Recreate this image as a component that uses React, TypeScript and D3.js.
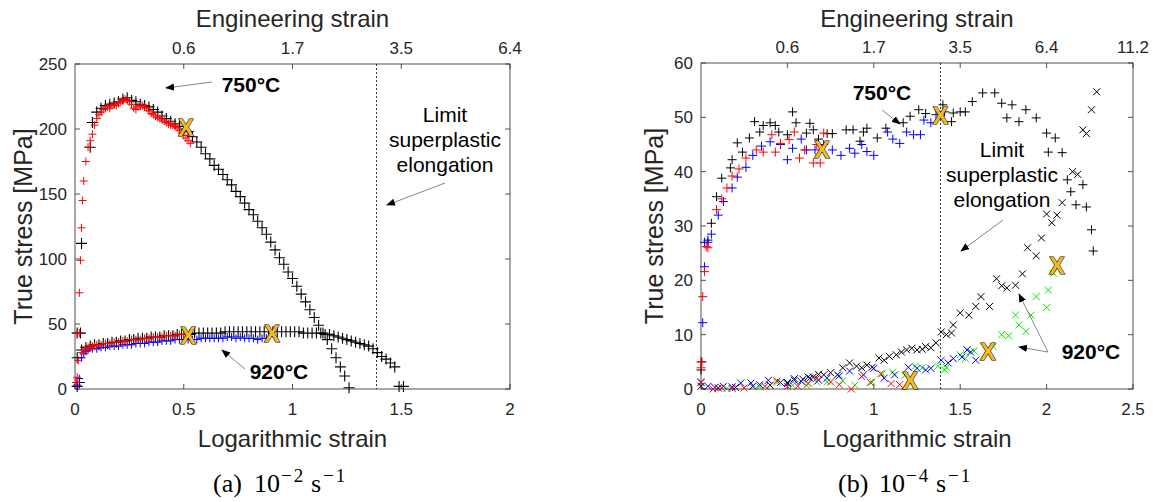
import React from "react";
import * as d3 from "d3";

type P = [number, number];

// ---------- Panel (a) 10^-2 s^-1 ----------
const a750Black: P[] = [
  [0.02, 5], [0.025, 43], [0.03, 112], [0.07, 186], [0.08, 205], [0.1, 213], [0.12, 216], [0.14, 218],
  [0.16, 219], [0.18, 220], [0.2, 221], [0.22, 223], [0.24, 224], [0.26, 222], [0.28, 221], [0.3, 219],
  [0.32, 218], [0.34, 217], [0.36, 215], [0.38, 213], [0.4, 210], [0.42, 208], [0.44, 206], [0.46, 204],
  [0.48, 202], [0.5, 200], [0.52, 198], [0.54, 194], [0.56, 190], [0.58, 186], [0.6, 181], [0.62, 177],
  [0.64, 172], [0.66, 169], [0.68, 165], [0.7, 161], [0.72, 157], [0.74, 152], [0.76, 148], [0.78, 143],
  [0.8, 138], [0.82, 134], [0.84, 129], [0.86, 124], [0.88, 119], [0.9, 113], [0.92, 107], [0.94, 101],
  [0.96, 96], [0.98, 90], [1.0, 85], [1.02, 79], [1.04, 73], [1.06, 67], [1.08, 61], [1.1, 55],
  [1.12, 49], [1.14, 43], [1.16, 38], [1.18, 31], [1.2, 24], [1.22, 17], [1.24, 10], [1.26, 1],
];
const a750Red: P[] = [
  [0.005, 5], [0.01, 43], [0.02, 74], [0.025, 99], [0.03, 124], [0.035, 145], [0.04, 160], [0.05, 175],
  [0.06, 186], [0.07, 191], [0.08, 196], [0.09, 203], [0.1, 208], [0.11, 211], [0.12, 213], [0.13, 215],
  [0.14, 216], [0.15, 217], [0.16, 216], [0.17, 218], [0.18, 219], [0.19, 218], [0.2, 220], [0.21, 221],
  [0.22, 222], [0.23, 223], [0.24, 222], [0.25, 221], [0.26, 219], [0.27, 216], [0.28, 215], [0.29, 217],
  [0.3, 218], [0.31, 218], [0.32, 217], [0.33, 216], [0.34, 214], [0.35, 212], [0.36, 211], [0.37, 210],
  [0.38, 209], [0.39, 208], [0.4, 207], [0.41, 206], [0.42, 205], [0.43, 204], [0.44, 203], [0.45, 203],
  [0.46, 202], [0.47, 201], [0.48, 199], [0.49, 197], [0.5, 195], [0.51, 193], [0.52, 191], [0.53, 189],
];
const a920Black: P[] = [
  [0.01, 2], [0.01, 24], [0.01, 43], [0.03, 30], [0.05, 32], [0.07, 33], [0.09, 34], [0.11, 34],
  [0.13, 35], [0.15, 35], [0.17, 36], [0.19, 36], [0.21, 37], [0.23, 37], [0.25, 38], [0.27, 38],
  [0.29, 39], [0.31, 39], [0.33, 39], [0.35, 40], [0.37, 40], [0.39, 40], [0.41, 41], [0.43, 41],
  [0.45, 41], [0.47, 42], [0.49, 42], [0.51, 42], [0.53, 42], [0.55, 43], [0.57, 43], [0.59, 43],
  [0.61, 43], [0.63, 43], [0.65, 43], [0.67, 43], [0.69, 44], [0.71, 44], [0.73, 44], [0.75, 44],
  [0.77, 44], [0.79, 44], [0.81, 44], [0.83, 44], [0.85, 44], [0.87, 44], [0.89, 44], [0.91, 44],
  [0.93, 44], [0.95, 44], [0.97, 44], [0.99, 44], [1.01, 44], [1.03, 44], [1.05, 43], [1.07, 43],
  [1.09, 43], [1.11, 43], [1.13, 43], [1.15, 42], [1.17, 42], [1.19, 41], [1.21, 40], [1.23, 39],
  [1.25, 38], [1.27, 37], [1.29, 36], [1.31, 35], [1.33, 34], [1.35, 33], [1.37, 31], [1.39, 28],
  [1.41, 25], [1.43, 23], [1.45, 20], [1.47, 17], [1.49, 2], [1.51, 2],
];
const a920Red: P[] = [
  [0.005, 5], [0.01, 9], [0.015, 22], [0.02, 43], [0.03, 28], [0.04, 30], [0.05, 31], [0.06, 32],
  [0.07, 32], [0.08, 33], [0.09, 33], [0.1, 34], [0.12, 34], [0.14, 35], [0.16, 35], [0.18, 36],
  [0.2, 36], [0.22, 37], [0.24, 37], [0.26, 38], [0.28, 38], [0.3, 38], [0.32, 39], [0.34, 39],
  [0.36, 40], [0.38, 40], [0.4, 40], [0.42, 41], [0.44, 41], [0.46, 41], [0.48, 42], [0.5, 42],
];
const a920Blue: P[] = [
  [0.01, 3], [0.02, 8], [0.03, 24], [0.04, 27], [0.05, 29], [0.06, 30], [0.08, 31], [0.1, 31],
  [0.12, 32], [0.14, 32], [0.16, 33], [0.18, 33], [0.2, 33], [0.22, 34], [0.24, 34], [0.26, 34],
  [0.28, 35], [0.3, 35], [0.32, 35], [0.34, 36], [0.36, 36], [0.38, 36], [0.4, 37], [0.42, 37],
  [0.44, 37], [0.46, 38], [0.48, 38], [0.5, 38], [0.52, 38], [0.54, 38], [0.56, 38], [0.58, 39],
  [0.6, 39], [0.62, 39], [0.64, 39], [0.66, 39], [0.68, 39], [0.7, 40], [0.72, 40], [0.74, 39],
  [0.76, 40], [0.78, 39], [0.8, 39], [0.82, 39], [0.84, 38], [0.86, 39], [0.88, 39],
];
const aFailure: P[] = [[0.51, 201], [0.52, 41], [0.905, 42]];

// ---------- Panel (b) 10^-4 s^-1 ----------
const b750Black: P[] = [
  [0.0, 3.5], [0.005, 5], [0.04, 27.4], [0.06, 30.5], [0.09, 35.4], [0.12, 38.8], [0.17, 40.7], [0.18, 42.2],
  [0.21, 45.3], [0.24, 43.6], [0.28, 46.2], [0.31, 49.2], [0.34, 47.3], [0.36, 48.5], [0.4, 49], [0.43, 48.5],
  [0.45, 47.3], [0.5, 46.8], [0.53, 51], [0.55, 49], [0.61, 47.1], [0.63, 48.9], [0.65, 47.7], [0.68, 46],
  [0.73, 47], [0.76, 47], [0.84, 47.7], [0.88, 47.7], [0.92, 45.6], [0.94, 47.3], [0.96, 48], [1.02, 46.2],
  [1.07, 48], [1.17, 49], [1.21, 50.2], [1.26, 51.4], [1.3, 50.7], [1.4, 52.3], [1.41, 51], [1.45, 49.2],
  [1.46, 50.8], [1.5, 51], [1.53, 51], [1.57, 52.9], [1.63, 54.5], [1.7, 54.5], [1.74, 52.6], [1.77, 49.9],
  [1.8, 52.3], [1.84, 49.2], [1.88, 51.4], [1.94, 49.9], [2.0, 47.1], [2.01, 43.6], [2.05, 46.2], [2.09, 43.5],
  [2.12, 38.5], [2.14, 36.3], [2.17, 33.9], [2.21, 37.6], [2.23, 33.5], [2.26, 29.3], [2.27, 25.4],
];
const b750Blue: P[] = [
  [0.01, 12.2], [0.02, 22.5], [0.02, 27], [0.04, 27], [0.06, 28.5], [0.1, 32], [0.13, 34.5], [0.18, 37],
  [0.21, 39], [0.26, 40.8], [0.3, 43], [0.35, 44.7], [0.4, 45.5], [0.46, 45], [0.5, 42.2], [0.53, 44.3],
  [0.58, 46], [0.61, 44], [0.66, 44], [0.71, 45], [0.76, 44], [0.81, 43], [0.86, 44.3], [0.89, 43.4],
  [0.93, 45], [0.96, 43.7], [1.0, 43], [1.08, 47.3], [1.11, 46], [1.15, 45.2], [1.19, 47.3], [1.23, 46.8],
  [1.27, 46.8], [1.29, 49.5], [1.33, 49], [1.36, 50.5],
];
const b750Red: P[] = [
  [0.0, 3.9], [0.0, 5], [0.01, 17], [0.02, 21.6], [0.03, 26.2], [0.04, 26], [0.09, 33], [0.12, 35],
  [0.15, 37], [0.18, 39.2], [0.22, 40.5], [0.26, 42.5], [0.32, 44], [0.36, 43.6], [0.41, 46.8], [0.43, 43.6],
  [0.46, 45.2], [0.51, 45.9], [0.54, 47.3], [0.57, 42.5], [0.6, 44], [0.65, 41.6], [0.67, 45], [0.69, 41.6],
  [0.71, 47.1],
];
const b920Black: P[] = [
  [0.0, 0.5], [0.1, 0.2], [0.2, 0.3], [0.3, 0.5], [0.4, 0.7], [0.5, 1.2], [0.54, 1.9], [0.59, 1.8],
  [0.62, 2.2], [0.65, 2.2], [0.68, 2.7], [0.71, 2.6], [0.75, 3.0], [0.79, 2.6], [0.82, 3.9], [0.86, 4.8],
  [0.9, 4.2], [0.93, 3.9], [0.96, 4.4], [0.99, 4.0], [1.03, 5.7], [1.06, 5.3], [1.09, 6.0], [1.13, 6.3],
  [1.16, 6.8], [1.19, 7.2], [1.22, 7.5], [1.25, 7.2], [1.28, 7.3], [1.3, 7.8], [1.33, 7.6], [1.36, 8.5],
  [1.39, 10.5], [1.42, 10], [1.45, 10.3], [1.46, 11.8], [1.5, 14], [1.55, 13.6], [1.59, 15.2], [1.62, 17],
  [1.67, 15.2], [1.71, 20.3], [1.74, 19], [1.77, 18.6], [1.82, 19.1], [1.86, 21.2], [1.89, 26], [1.94, 24.5],
  [1.97, 27.8], [2.0, 32.2], [2.03, 30.6], [2.06, 32], [2.09, 34.3], [2.15, 40], [2.18, 39.5], [2.21, 47.7],
  [2.23, 47], [2.26, 51.4], [2.29, 54.7],
];
const b920Green: P[] = [
  [0.15, 0.1], [0.34, 0.4], [0.44, 1.2], [0.53, 0.7], [0.61, 0.7], [0.67, 1.3], [0.73, 1.3], [0.82, 1.5],
  [0.89, 0.7], [0.99, 1.3], [1.05, 2.8], [1.11, 3.1], [1.18, 2.5], [1.24, 4.2], [1.28, 3.9], [1.37, 4.2],
  [1.41, 3.5], [1.42, 4], [1.5, 6.3], [1.53, 5.6], [1.54, 7.2], [1.58, 7.0], [1.69, 7.8], [1.74, 10],
  [1.78, 9.8], [1.82, 13.6], [1.84, 11.8], [1.88, 10.6], [1.91, 13.6], [1.94, 17], [2.0, 15], [2.01, 18.2],
  [2.04, 21.3],
];
const b920Blue: P[] = [
  [0.0, 1.2], [0.04, 0.5], [0.08, 0.3], [0.13, 0.5], [0.18, 0.4], [0.23, 1.1], [0.29, 1.1], [0.34, 0.8],
  [0.39, 1.6], [0.46, 1.2], [0.5, 1.0], [0.54, 1.6], [0.58, 1.4], [0.63, 2.0], [0.68, 1.6], [0.73, 2.0],
  [0.8, 2.4], [0.86, 3.3], [0.94, 2.6], [1.0, 3.8], [1.06, 2.0], [1.12, 2.6], [1.2, 4.0], [1.25, 3.8],
  [1.3, 3.5], [1.33, 3.8], [1.39, 5.3], [1.43, 4.8], [1.46, 5.6], [1.51, 5.9], [1.54, 7.2], [1.56, 6.8],
  [1.59, 5.3],
];
const b920Red: P[] = [
  [0.0, 1.3], [0.07, 0], [0.12, 0.2], [0.18, 0.1], [0.25, 0.2], [0.37, 0.5], [0.44, 1.5], [0.5, 0.5],
  [0.56, 0.5], [0.62, 1.0], [0.67, 2.0], [0.75, 1.3], [0.8, 0.8], [0.87, 0], [0.93, 2.3], [0.98, 1.2],
  [1.04, 2.8], [1.1, 1.0], [1.15, 0.8],
];
const bFailure: P[] = [[0.7, 44], [1.385, 50.3], [1.21, 1.4], [1.66, 6.8], [2.06, 22.6]];

// ---------- Axes ticks ----------
const aXTicks = [0, 0.5, 1, 1.5, 2];
const aYTicks = [0, 50, 100, 150, 200, 250];
const bXTicks = [0, 0.5, 1, 1.5, 2, 2.5];
const bYTicks = [0, 10, 20, 30, 40, 50, 60];
const aEngTicks = [0.5, 1, 1.5, 2];
const bEngTicks = [0.5, 1, 1.5, 2, 2.5];
const limitStrain = Math.log(4); // engineering strain 3.0

const FONT = "'Liberation Sans', Arial, Helvetica, sans-serif";
const SERIF = "'Liberation Serif', 'DejaVu Serif', serif";
const AX = "#262626";

type Series = { data: P[]; color: string; shape: "plus" | "cross"; r: number; w: number };

const plusPath = (x: number, y: number, r: number) => `M${x - r},${y}H${x + r}M${x},${y - r}V${y + r}`;
const crossPath = (x: number, y: number, r: number) =>
  `M${x - r},${y - r}L${x + r},${y + r}M${x - r},${y + r}L${x + r},${y - r}`;

type Arrow = { x1: number; y1: number; x2: number; y2: number };
type Label = { x: number; y: number; lines: string[]; bold: boolean; size: number };

function Panel(props: {
  left: number; right: number; top: number; bottom: number; yLabelX: number; captionX: number;
  xMax: number; yMax: number; xTicks: number[]; yTicks: number[]; engTicks: number[];
  series: Series[]; failures: P[]; labels: Label[]; arrows: Arrow[]; caption: string; rateExp: string;
}) {
  const { left, right, top, bottom } = props;
  const x = d3.scaleLinear().domain([0, props.xMax]).range([left, right]);
  const y = d3.scaleLinear().domain([0, props.yMax]).range([bottom, top]);
  const cx = (left + right) / 2;
  const tl = 5;
  const clipId = `clip-${left}`;
  const c0 = props.captionX;
  return (
    <g>
      <defs>
        <clipPath id={clipId}>
          <rect x={left - 8} y={top - 8} width={right - left + 16} height={bottom - top + 16} />
        </clipPath>
      </defs>
      <rect x={left} y={top} width={right - left} height={bottom - top} fill="white" stroke={AX} strokeWidth={0.8} />
      {props.xTicks.map((t) => (
        <g key={`xt${t}`}>
          <line x1={x(t)} x2={x(t)} y1={bottom} y2={bottom - tl} stroke={AX} strokeWidth={0.8} />
          <text x={x(t)} y={bottom + 26} textAnchor="middle" fontSize={17} fill={AX} fontFamily={FONT}>
            {String(t)}
          </text>
        </g>
      ))}
      {props.yTicks.map((t) => (
        <g key={`yt${t}`}>
          <line x1={left} x2={left + tl} y1={y(t)} y2={y(t)} stroke={AX} strokeWidth={0.8} />
          <line x1={right} x2={right - tl} y1={y(t)} y2={y(t)} stroke={AX} strokeWidth={0.8} />
          <text x={left - 8} y={y(t) + 6} textAnchor="end" fontSize={17} fill={AX} fontFamily={FONT}>
            {String(t)}
          </text>
        </g>
      ))}
      {props.engTicks.map((t) => (
        <g key={`et${t}`}>
          <line x1={x(t)} x2={x(t)} y1={top} y2={top + tl} stroke={AX} strokeWidth={0.8} />
          <text x={x(t)} y={top - 10} textAnchor="middle" fontSize={17} fill={AX} fontFamily={FONT}>
            {(Math.exp(t) - 1).toFixed(1)}
          </text>
        </g>
      ))}
      <line x1={x(limitStrain)} x2={x(limitStrain)} y1={top} y2={bottom} stroke="#000" strokeWidth={0.8} strokeDasharray="2,2" />
      <g clipPath={`url(#${clipId})`}>
        {props.series.map((s, i) => (
          <path
            key={`s${i}`}
            d={s.data.map(([a, b]) => (s.shape === "plus" ? plusPath(x(a), y(b), s.r) : crossPath(x(a), y(b), s.r))).join("")}
            stroke={s.color}
            strokeWidth={s.w}
            fill="none"
          />
        ))}
      </g>
      {props.failures.map(([a, b], i) => (
        <text
          key={`f${i}`}
          x={x(a)}
          y={y(b) + 8}
          textAnchor="middle"
          fontSize={23}
          fontWeight="bold"
          fontFamily={FONT}
          fill="#F7BA1B"
          stroke="#000"
          strokeWidth={1.1}
          style={{ paintOrder: "stroke" }}
        >
          X
        </text>
      ))}
      {props.arrows.map((a, i) => (
        <line key={`a${i}`} x1={a.x1} y1={a.y1} x2={a.x2} y2={a.y2} stroke="#666" strokeWidth={0.8} markerEnd="url(#arrowhead)" />
      ))}
      {props.labels.map((l, i) => (
        <text
          key={`l${i}`}
          x={l.x}
          y={l.y}
          textAnchor="middle"
          fontSize={l.size}
          fontWeight={l.bold ? "bold" : "normal"}
          fontFamily={FONT}
          fill="#000"
        >
          {l.lines.map((ln, j) => (
            <tspan key={j} x={l.x} dy={j === 0 ? 0 : 25}>
              {ln}
            </tspan>
          ))}
        </text>
      ))}
      <text x={cx} y={27} textAnchor="middle" fontSize={24} fill={AX} fontFamily={FONT}>
        Engineering strain
      </text>
      <text x={cx} y={447} textAnchor="middle" fontSize={24} fill={AX} fontFamily={FONT}>
        Logarithmic strain
      </text>
      <text
        transform={`translate(${props.yLabelX},${(top + bottom) / 2}) rotate(-90)`}
        textAnchor="middle"
        fontSize={25}
        fill={AX}
        fontFamily={FONT}
      >
        True stress [MPa]
      </text>
      <text y={492} fontSize={26} fill="#000" fontFamily={SERIF}>
        <tspan x={c0}>{props.caption}</tspan>
        <tspan x={c0 + 41}>10</tspan>
        <tspan x={c0 + 68} dy={-10} fontSize={19} letterSpacing={2}>{props.rateExp}</tspan>
        <tspan x={c0 + 98} dy={10}>s</tspan>
        <tspan x={c0 + 110} dy={-10} fontSize={19} letterSpacing={2}>−1</tspan>
      </text>
    </g>
  );
}

export default function App() {
  const seriesA: Series[] = [
    { data: a750Black, color: "#000", shape: "plus", r: 5.5, w: 1.1 },
    { data: a920Black, color: "#000", shape: "plus", r: 5.5, w: 1.1 },
    { data: a920Blue, color: "#0000FF", shape: "plus", r: 4, w: 1 },
    { data: a750Red, color: "#FF0000", shape: "plus", r: 4, w: 1 },
    { data: a920Red, color: "#FF0000", shape: "plus", r: 4, w: 1 },
  ];
  const seriesB: Series[] = [
    { data: b750Black, color: "#000", shape: "plus", r: 4.5, w: 1 },
    { data: b750Blue, color: "#0000FF", shape: "plus", r: 4.5, w: 1 },
    { data: b750Red, color: "#FF0000", shape: "plus", r: 4.5, w: 1 },
    { data: b920Black, color: "#000", shape: "cross", r: 3.5, w: 1 },
    { data: b920Green, color: "#00EE00", shape: "cross", r: 3.5, w: 1 },
    { data: b920Blue, color: "#0000FF", shape: "cross", r: 3.5, w: 1 },
    { data: b920Red, color: "#FF0000", shape: "cross", r: 3.5, w: 1 },
  ];
  return (
    <svg width={1154} height={502} style={{ position: "absolute", left: 0, top: 0, background: "white" }}>
      <defs>
        <marker id="arrowhead" viewBox="0 0 10 10" refX="9" refY="5" markerWidth="9" markerHeight="9" orient="auto" markerUnits="userSpaceOnUse">
          <path d="M0,1L10,5L0,9z" fill="#000" />
        </marker>
      </defs>
      <rect width={1154} height={502} fill="white" />
      <Panel
        left={75} right={510} top={64} bottom={389} yLabelX={32} captionX={213}
        xMax={2} yMax={250} xTicks={aXTicks} yTicks={aYTicks} engTicks={aEngTicks}
        series={seriesA} failures={aFailure}
        labels={[
          { x: 251, y: 92, lines: ["750°C"], bold: true, size: 21 },
          { x: 279, y: 379, lines: ["920°C"], bold: true, size: 21 },
          { x: 445, y: 122, lines: ["Limit", "superplastic", "elongation"], bold: false, size: 21 },
        ]}
        arrows={[
          { x1: 212, y1: 82, x2: 166, y2: 88 },
          { x1: 245, y1: 369, x2: 222, y2: 350 },
          { x1: 445, y1: 183, x2: 387, y2: 205 },
        ]}
        caption="(a)" rateExp="−2"
      />
      <Panel
        left={701} right={1133} top={63} bottom={389} yLabelX={663} captionX={838}
        xMax={2.5} yMax={60} xTicks={bXTicks} yTicks={bYTicks} engTicks={bEngTicks}
        series={seriesB} failures={bFailure}
        labels={[
          { x: 882, y: 100, lines: ["750°C"], bold: true, size: 21 },
          { x: 1091, y: 359, lines: ["920°C"], bold: true, size: 21 },
          { x: 1002, y: 157, lines: ["Limit", "superplastic", "elongation"], bold: false, size: 21 },
        ]}
        arrows={[
          { x1: 882, y1: 110, x2: 900, y2: 124 },
          { x1: 1003, y1: 220, x2: 961, y2: 251 },
          { x1: 1048, y1: 352, x2: 1019, y2: 347 },
          { x1: 1048, y1: 352, x2: 1019, y2: 294 },
        ]}
        caption="(b)" rateExp="−4"
      />
    </svg>
  );
}
